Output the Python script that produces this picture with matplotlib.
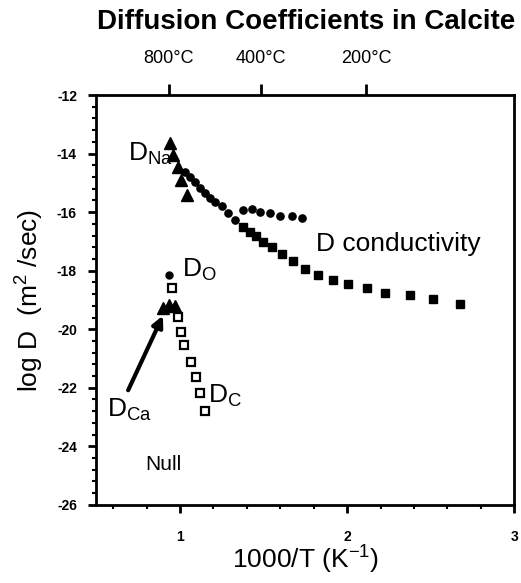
import numpy as np
import matplotlib
matplotlib.use('Agg')
import matplotlib.pyplot as plt

plt.rcParams['font.family'] = ['Liberation Sans', 'DejaVu Sans']
plt.rcParams['mathtext.fontset'] = 'custom'
plt.rcParams['mathtext.rm'] = 'Liberation Sans'
plt.rcParams['mathtext.it'] = 'Liberation Sans'
plt.rcParams['mathtext.bf'] = 'Liberation Sans:bold'
plt.rcParams['mathtext.default'] = 'regular'
plt.rcParams['axes.unicode_minus'] = False

# D_Na (triangles)
na_x = [0.940, 0.958, 0.988, 1.006, 1.042]
na_y = [-13.64, -14.05, -14.46, -14.90, -15.41]

# conductivity, circles (high T branch)
cond_circ_x = [1.030, 1.060, 1.090, 1.120, 1.150, 1.180, 1.210, 1.251, 1.287, 1.329,
               1.377, 1.431, 1.479, 1.539, 1.599, 1.671, 1.731]
cond_circ_y = [-14.63, -14.80, -14.97, -15.17, -15.34, -15.52, -15.65, -15.79, -16.03, -16.27,
               -15.92, -15.89, -15.99, -16.03, -16.13, -16.13, -16.20]

# conductivity, filled squares
cond_sq_x = [1.377, 1.419, 1.455, 1.497, 1.551, 1.611, 1.677, 1.749, 1.826, 1.916,
             2.006, 2.120, 2.228, 2.377, 2.515, 2.677]
cond_sq_y = [-16.51, -16.68, -16.81, -17.02, -17.19, -17.43, -17.67, -17.94, -18.14, -18.31,
             -18.45, -18.59, -18.76, -18.83, -18.96, -19.13]

# D_O
o_x = [0.934]
o_y = [-18.14]

# D_Ca (triangles)
ca_x = [0.898, 0.934, 0.970]
ca_y = [-19.27, -19.17, -19.20]

# D_C (open squares)
c_x = [0.952, 0.988, 1.006, 1.024, 1.066, 1.096, 1.120, 1.150]
c_y = [-18.59, -19.58, -20.09, -20.53, -21.11, -21.62, -22.17, -22.78]

# temperature ticks on top
top_temps = [800, 400, 200]

fig = plt.figure(figsize=(5.21, 5.83), dpi=100)
ax = fig.add_axes([0.185, 0.134, 0.802, 0.703])

ax.plot(cond_circ_x, cond_circ_y, 'o', color='black', ms=5.2, ls='none')
ax.plot(cond_sq_x, cond_sq_y, 's', color='black', ms=6.2, ls='none')
ax.plot(na_x, na_y, '^', color='black', ms=8, ls='none')
ax.plot(o_x, o_y, 'o', color='black', ms=5, ls='none')
ax.plot(ca_x, ca_y, '^', color='black', ms=8, ls='none')
ax.plot(c_x, c_y, 's', mfc='white', mec='black', mew=1.6, ms=5.5, ls='none')

# arrow from D_Ca label to its points
ax.annotate('', xy=(0.905, -19.45), xytext=(0.683, -22.17),
            arrowprops=dict(arrowstyle='-|>', lw=3, color='black',
                            mutation_scale=16))

ax.text(0.69, -14.25, r'D$_{Na}$', fontsize=19, va='baseline')
ax.text(1.814, -17.32, 'D conductivity', fontsize=19, va='baseline')
ax.text(1.012, -18.21, r'D$_O$', fontsize=19, va='baseline')
ax.text(0.563, -22.99, r'D$_{Ca}$', fontsize=19, va='baseline')
ax.text(1.168, -22.51, r'D$_C$', fontsize=19, va='baseline')
ax.text(0.79, -24.8, 'Null', fontsize=15, va='baseline')

ax.set_xlim(0.5, 3)
ax.set_ylim(-26, -12)
ax.set_xticks([1, 2, 3])
ax.set_xticks(np.arange(0.6, 3.0, 0.2), minor=True)
ax.set_yticks(np.arange(-26, -11, 2))
ax.set_yticks(np.arange(-26, -12, 0.4), minor=True)
ax.tick_params(which='major', length=6, width=2, labelsize=10, direction='out')
ax.tick_params(axis='x', which='major', pad=12)
ax.tick_params(axis='y', which='major', pad=8)
ax.tick_params(which='minor', length=3, width=1.5, direction='out')
for lab in ax.get_xticklabels() + ax.get_yticklabels():
    lab.set_fontweight('bold')
for s in ax.spines.values():
    s.set_linewidth(2)

sec = ax.secondary_xaxis('top')
sec.set_xticks([1000 / (t + 273.15) for t in top_temps],
               labels=[f'{t}°C' for t in top_temps])
sec.tick_params(length=8, width=2, labelsize=13, pad=12)

ax.set_xlabel(r'1000/T (K$^{-1}$)', fontsize=19)
ax.xaxis.set_label_coords(0.5, -0.095)
ax.set_ylabel(r'log D  (m$^2$ /sec)', fontsize=19, labelpad=8)
fig.text(0.587, 0.962, 'Diffusion Coefficients in Calcite', fontsize=20,
         fontweight='bold', ha='center', va='center')

fig.savefig('out.png', dpi=100)
